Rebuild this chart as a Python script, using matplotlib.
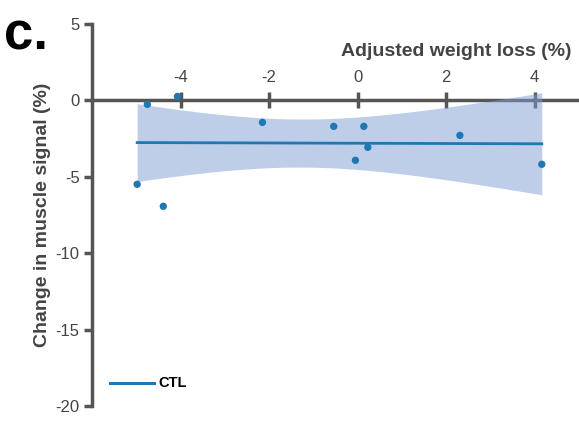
import numpy as np
import matplotlib
matplotlib.use("Agg")
import matplotlib.pyplot as plt

plt.rcParams['font.family'] = ['Liberation Sans', 'DejaVu Sans']

# Data
weight_loss = [-4.98, -4.75, -4.39, -4.07, -2.15, -0.54, -0.05, 0.14, 0.23, 2.31, 4.16]
muscle_change = [-5.49, -0.26, -6.93, 0.26, -1.44, -1.70, -3.92, -1.70, -3.07, -2.29, -4.18]
group_label = "CTL"
x_ticks = [-4, -2, 0, 2, 4]
y_ticks = [5, 0, -5, -10, -15, -20]

x = np.array(weight_loss)
y = np.array(muscle_change)

# linear fit with 95% confidence band
n = len(x)
slope, intercept = np.polyfit(x, y, 1)
xs = np.linspace(x.min(), x.max(), 200)
ys = intercept + slope * xs
resid = y - (intercept + slope * x)
s = np.sqrt(np.sum(resid ** 2) / (n - 2))
t = 2.262  # t(0.975, df=9)
se = s * np.sqrt(1 / n + (xs - x.mean()) ** 2 / np.sum((x - x.mean()) ** 2))
lo, hi = ys - t * se, ys + t * se

fig = plt.figure(figsize=(5.79, 4.24), dpi=100)
ax = fig.add_axes([92 / 579, 1 - 406 / 424, 1 - 92 / 579, (406 - 24) / 424])

blue = '#1f77b4'
spine_c = '#555555'
ax.fill_between(xs, lo, hi, color='#7f9fd4', alpha=0.5, lw=0, zorder=2.5)
ax.plot(xs, ys, color=blue, lw=2, zorder=3)
ax.scatter(x, y, s=28, color=blue, zorder=4, edgecolors='none')

ax.set_xlim(-6, 5)
ax.set_ylim(-20, 5)

for sp in ['top', 'right']:
    ax.spines[sp].set_visible(False)
ax.spines['bottom'].set_position(('data', 0))
ax.spines['bottom'].set_color(spine_c)
ax.spines['left'].set_color(spine_c)
ax.spines['bottom'].set_linewidth(2.5)
ax.spines['left'].set_linewidth(2.5)
ax.spines['bottom'].set_zorder(2)

ax.set_xticks(x_ticks)
ax.set_yticks(y_ticks)
ax.set_yticklabels([str(v) for v in y_ticks])
ax.xaxis.set_ticks_position('bottom')
ax.tick_params(axis='x', direction='inout', length=11, width=2.5, color=spine_c,
               labelbottom=False, labeltop=False, top=False)
ax.tick_params(axis='y', direction='out', length=6, width=2.5, color=spine_c,
               labelsize=12, labelcolor='#444444', pad=3)

# x tick labels above the zero line
for v in x_ticks:
    ax.annotate(str(v), xy=(v, 0), xycoords='data', xytext=(0, 11), textcoords='offset points',
                ha='center', va='bottom', fontsize=12, color='#444444')

ax.set_ylabel('Change in muscle signal (%)', fontsize=14, fontweight='bold', color='#444444', labelpad=3)
ax.text(0.985, 0.927, 'Adjusted weight loss (%)', transform=ax.transAxes, ha='right', va='center',
        fontsize=14, fontweight='bold', color='#444444')

ax.plot([-5.6, -4.6], [-18.5, -18.5], color=blue, lw=2.2, zorder=3)
ax.text(-4.5, -18.5, group_label, fontsize=10.5, fontweight='bold', color='black', va='center', ha='left')

fig.text(4 / 579, 1 - 36 / 424, 'c.', fontsize=38, fontweight='bold', color='black', va='center', ha='left')

fig.savefig('out.png', dpi=100)
